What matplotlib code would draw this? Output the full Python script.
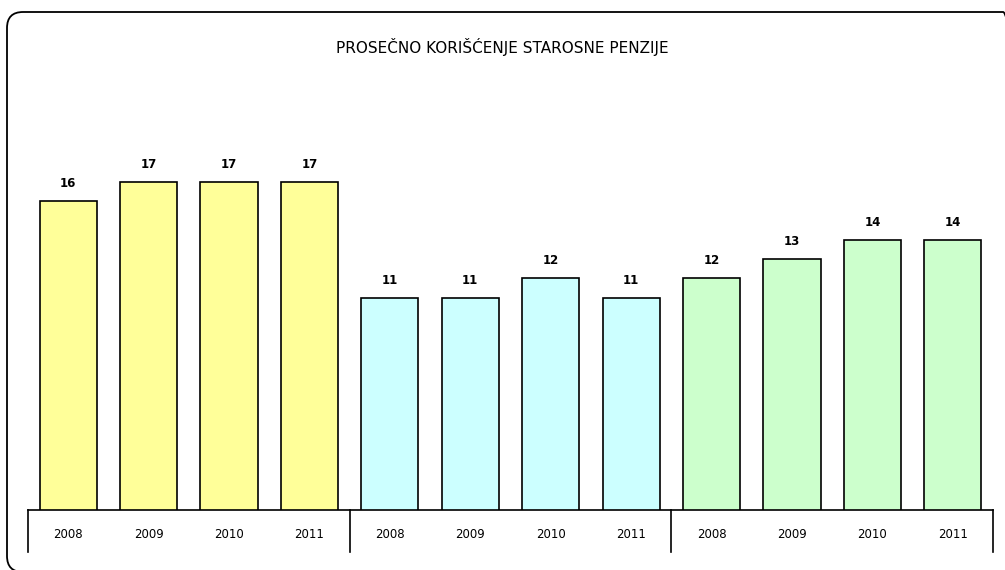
import matplotlib
matplotlib.use("Agg")
import matplotlib.pyplot as plt
from matplotlib.patches import FancyBboxPatch
import matplotlib.transforms as mtransforms

title = "PROSEČNO KORIŠĆENJE STAROSNE PENZIJE"
years = ["2008", "2009", "2010", "2011"] * 3
values = [16, 17, 17, 17, 11, 11, 12, 11, 12, 13, 14, 14]
group_colors = ["#FFFF99", "#CCFFFF", "#CCFFCC"]

W, H = 1005, 570
fig = plt.figure(figsize=(W / 100, H / 100), dpi=100)

# rounded outer frame, in pixels; runs off the right and bottom edges
frame = FancyBboxPatch((7, -2), 1012, 2 + (H - 12),
                       boxstyle="round,pad=0,rounding_size=16",
                       transform=mtransforms.IdentityTransform(), facecolor="none",
                       edgecolor="black", linewidth=1.3, zorder=0)
fig.patches.append(frame)

ax = fig.add_axes([28 / W, 60 / H, 965 / W, 386 / H])
ax.set_facecolor("none")

colors = [group_colors[i // 4] for i in range(len(values))]
x = list(range(len(values)))
ax.bar(x, values, width=0.71, color=colors, edgecolor="black", linewidth=1.2, zorder=3)

for xi, v in zip(x, values):
    ax.annotate(str(v), (xi, v), xytext=(0, 8), textcoords="offset points",
                ha="center", va="bottom", fontsize=8.5, fontweight="bold")

ax.set_xlim(-0.5, len(values) - 0.5)
ax.set_ylim(0, 20)
ax.set_yticks([])
ax.set_xticks(x)
ax.set_xticklabels(years, fontsize=8.5)
ax.tick_params(axis="x", length=0, pad=13)
for s in ["left", "right", "top"]:
    ax.spines[s].set_visible(False)
ax.spines["bottom"].set_linewidth(1.2)

# group separators below the axis
trans = mtransforms.blended_transform_factory(ax.transData, ax.transAxes)
for sx in [-0.5, 3.5, 7.5, 11.5]:
    ax.plot([sx, sx], [0, -42 / 386], color="black", linewidth=1.2,
            transform=trans, clip_on=False)

fig.text(0.5, 1 - 47 / H, title, ha="center", va="center", fontsize=11)

fig.savefig("out.png", dpi=100)
